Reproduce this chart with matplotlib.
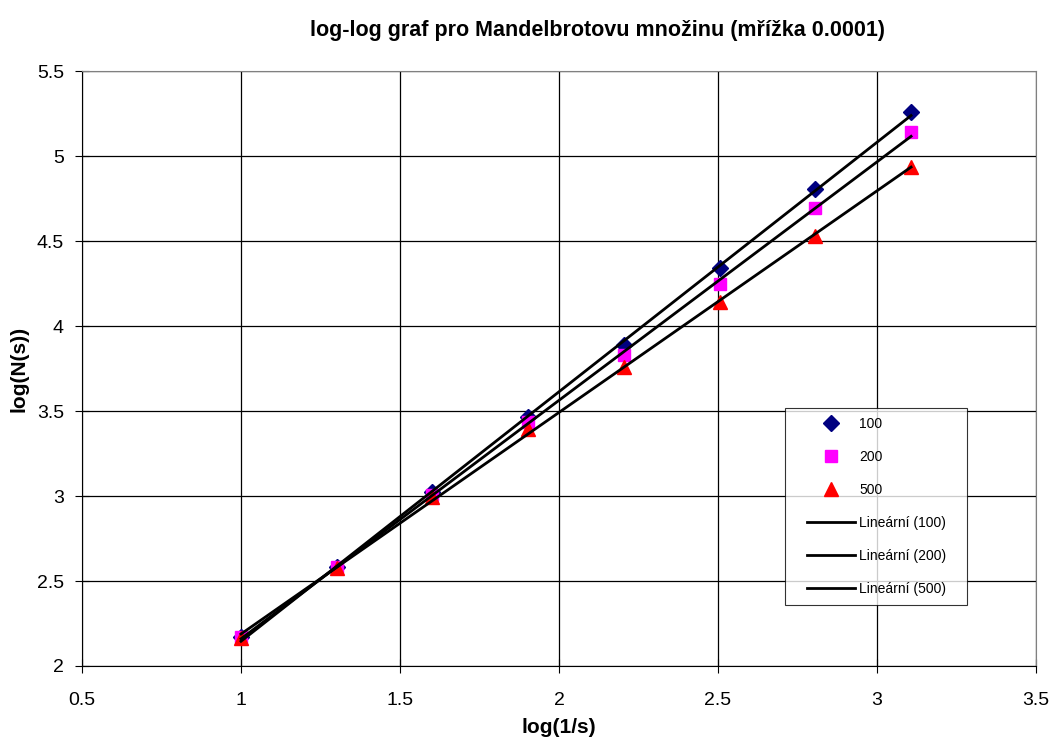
import numpy as np
import matplotlib
matplotlib.use("Agg")
import matplotlib.pyplot as plt
from matplotlib.lines import Line2D
from matplotlib.legend_handler import HandlerLine2D

x = [1.0, 1.301, 1.602, 1.903, 2.204, 2.505, 2.806, 3.107]
y100 = [2.17, 2.583, 3.024, 3.465, 3.888, 4.341, 4.806, 5.259]
y200 = [2.171, 2.582, 3.006, 3.435, 3.829, 4.247, 4.694, 5.141]
y500 = [2.165, 2.576, 2.994, 3.394, 3.759, 4.141, 4.529, 4.935]
series_names = ["100", "200", "500"]
xticks = [0.5, 1, 1.5, 2, 2.5, 3, 3.5]
yticks = [2, 2.5, 3, 3.5, 4, 4.5, 5, 5.5]


class ShiftedHandler(HandlerLine2D):
    def create_artists(self, legend, orig_handle, xdescent, ydescent,
                       width, height, fontsize, trans):
        arts = super().create_artists(legend, orig_handle, xdescent, ydescent,
                                      width, height, fontsize, trans)
        for a in arts:
            n = len(a.get_xdata())
            if n == 3:
                a.set_xdata([-xdescent + 9.4, -xdescent + 26.6, -xdescent + width])
        return arts


plt.rcParams['font.family'] = ['Liberation Sans', 'DejaVu Sans']
fig = plt.figure(figsize=(10.53, 7.40), dpi=100)
ax = fig.add_axes([0.0779, 0.1, 0.9060, 0.804])

ax.set_xlim(0.5, 3.5)
ax.set_ylim(2, 5.5)
ax.set_xticks(xticks)
ax.set_yticks(yticks)
ax.set_xticklabels([f"{t:g}" for t in xticks], fontsize=14)
ax.set_yticklabels([f"{t:g}" for t in yticks], fontsize=14)
ax.grid(True, color='black', linewidth=0.9)
ax.set_axisbelow(True)
ax.spines['top'].set_color('#808080')
ax.spines['right'].set_color('#808080')
ax.spines['left'].set_color('black')
ax.spines['bottom'].set_color('black')
ax.tick_params(axis='y', direction='inout', length=10, color='black', pad=8)
ax.tick_params(axis='x', direction='inout', length=10, color='black', pad=14)

xa = np.array(x)
styles = [('D', '#000080', 8), ('s', '#FF00FF', 9), ('^', '#FF0000', 10)]
handles = []
for ys, (m, c, ms), name in zip([y100, y200, y500], styles, series_names):
    ax.plot(x, ys, linestyle='none', marker=m, color=c, markersize=ms, zorder=3)
    handles.append(Line2D([], [], linestyle='none', marker=m, color=c, markersize=ms, label=name))
for ys, name in zip([y100, y200, y500], series_names):
    k, q = np.polyfit(xa, np.array(ys), 1)
    xs = np.array([xa.min(), xa.max()])
    ax.plot(xs, k * xs + q, color='black', linewidth=2, zorder=4)
    handles.append(Line2D([], [], color='black', linewidth=2, label=f"Lineární ({name})   "))

leg = ax.legend(handles=handles, loc='upper left', bbox_to_anchor=(0.737, 0.4336),
                fontsize=10, frameon=True, fancybox=False, edgecolor='black',
                labelspacing=1.37, handlelength=4.39, borderpad=0.65, handletextpad=0.29,
                borderaxespad=0, numpoints=1,
                handler_map={Line2D: ShiftedHandler()})
leg.get_frame().set_linewidth(0.8)

ax.set_xlabel("log(1/s)", fontsize=15, fontweight='bold', labelpad=6)
ax.set_ylabel("log(N(s))", fontsize=15, fontweight='bold', labelpad=6)
fig.text(0.567, 0.959, "log-log graf pro Mandelbrotovu množinu (mřížka 0.0001)",
         ha='center', va='center', fontsize=15.5, fontweight='bold')

fig.savefig("out.png", dpi=100)
